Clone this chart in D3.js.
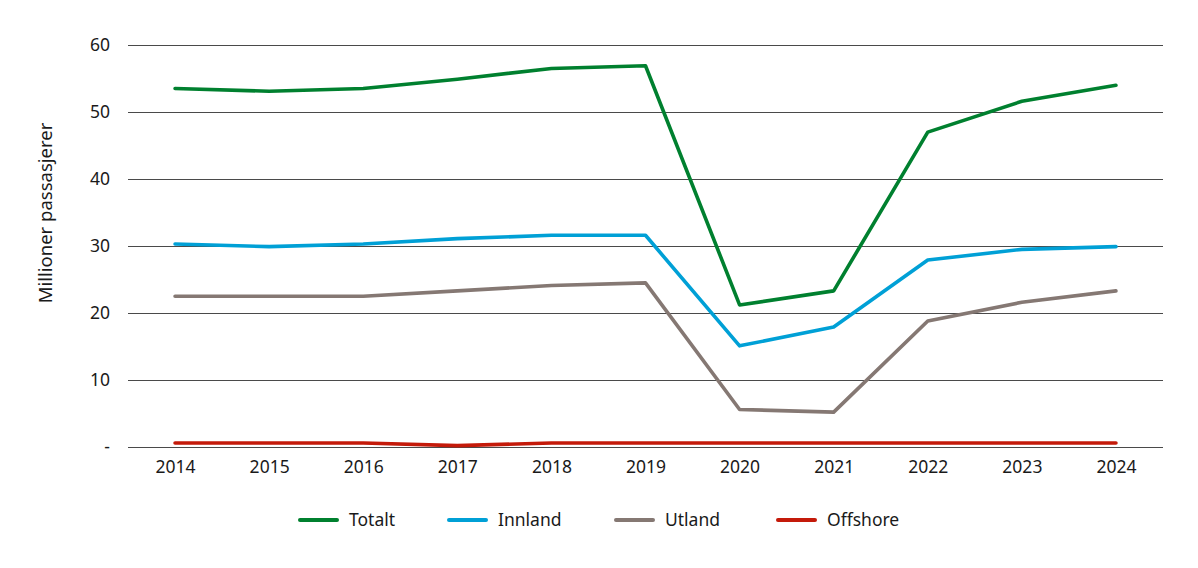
<!DOCTYPE html>
<html>
<head>
<meta charset="utf-8">
<script src="https://cdn.jsdelivr.net/npm/d3@7"></script>
<style>
  html, body { margin: 0; padding: 0; background: #fff; }
  svg { display: block; font-family: "Noto Sans", "Open Sans", sans-serif; }
</style>
</head>
<body>
<svg id="chart" width="1198" height="568"></svg>
<script>
// passasjerer over norske lufthavner, millioner
const years = ["2014", "2015", "2016", "2017", "2018", "2019", "2020", "2021", "2022", "2023", "2024"];
const totalt = [53.5, 53.1, 53.5, 54.9, 56.5, 56.9, 21.2, 23.3, 47.0, 51.6, 54.0];
const innland = [30.3, 29.9, 30.3, 31.1, 31.6, 31.6, 15.1, 17.9, 27.9, 29.5, 29.9];
const utland = [22.5, 22.5, 22.5, 23.3, 24.1, 24.5, 5.6, 5.2, 18.8, 21.6, 23.3];
const offshore = [0.6, 0.6, 0.6, 0.2, 0.6, 0.6, 0.6, 0.6, 0.6, 0.6, 0.6];
const yTicks = [0, 10, 20, 30, 40, 50, 60];

const seriesNames = ["Totalt", "Innland", "Utland", "Offshore"];
const seriesValues = [totalt, innland, utland, offshore];
const COLORS = ["#00802f", "#00a0d6", "#857873", "#c41a0a"];

const svg = d3.select("#chart");
const m = { left: 128, right: 35, top: 45, bottom: 121 };
const W = 1198, H = 568;
const FS = 17.5;

const x = d3.scalePoint().domain(years).range([m.left, W - m.right]).padding(0.5);
const y = d3.scaleLinear().domain([0, 60]).range([H - m.bottom, m.top]);

// gridlines
svg.append("g")
  .selectAll("line")
  .data(yTicks)
  .join("line")
  .attr("x1", m.left)
  .attr("x2", W - m.right)
  .attr("y1", (d) => Math.round(y(d)) + 0.5)
  .attr("y2", (d) => Math.round(y(d)) + 0.5)
  .attr("stroke", "#4a4a4a")
  .attr("stroke-width", 1);

// y labels
const yAxis = svg.append("g")
  .attr("transform", `translate(${m.left - 15},0)`)
  .call(d3.axisLeft(y).tickValues(yTicks).tickSize(0).tickFormat((d) => (d === 0 ? "-" : d)));
yAxis.select(".domain").remove();
yAxis.selectAll("text")
  .attr("font-family", "'Noto Sans', sans-serif")
  .attr("font-size", FS)
  .attr("fill", "#1a1a1a");

// x labels
const xAxis = svg.append("g")
  .attr("transform", `translate(0,${H - m.bottom + 11})`)
  .call(d3.axisBottom(x).tickSize(0));
xAxis.select(".domain").remove();
xAxis.selectAll("text")
  .attr("font-family", "'Noto Sans', sans-serif")
  .attr("font-size", FS)
  .attr("fill", "#1a1a1a");

svg.append("text")
  .attr("transform", `translate(52,${(y(60) + y(0)) / 2 - 33}) rotate(-90)`)
  .attr("text-anchor", "middle")
  .attr("font-size", 18.5)
  .attr("fill", "#1a1a1a")
  .text("Millioner passasjerer");

const line = d3.line()
  .x((d, i) => x(years[i]))
  .y((d) => y(d));

svg.append("g")
  .selectAll("path")
  .data(seriesValues.slice().reverse())
  .join("path")
  .attr("d", line)
  .attr("fill", "none")
  .attr("stroke", (d, i) => COLORS[COLORS.length - 1 - i])
  .attr("stroke-width", 3.6)
  .attr("stroke-linejoin", "round")
  .attr("stroke-linecap", "round");

// legend
const legendX = [300, 449, 616, 778];
const lg = svg.append("g")
  .selectAll("g")
  .data(seriesNames)
  .join("g")
  .attr("transform", (d, i) => `translate(${legendX[i]},520)`);
lg.append("line")
  .attr("x1", 0)
  .attr("x2", 37)
  .attr("stroke", (d, i) => COLORS[i])
  .attr("stroke-width", 4)
  .attr("stroke-linecap", "round");
lg.append("text")
  .attr("x", 49)
  .attr("dy", "0.35em")
  .attr("font-size", FS)
  .attr("fill", "#1a1a1a")
  .text((d) => d);
</script>
</body>
</html>
